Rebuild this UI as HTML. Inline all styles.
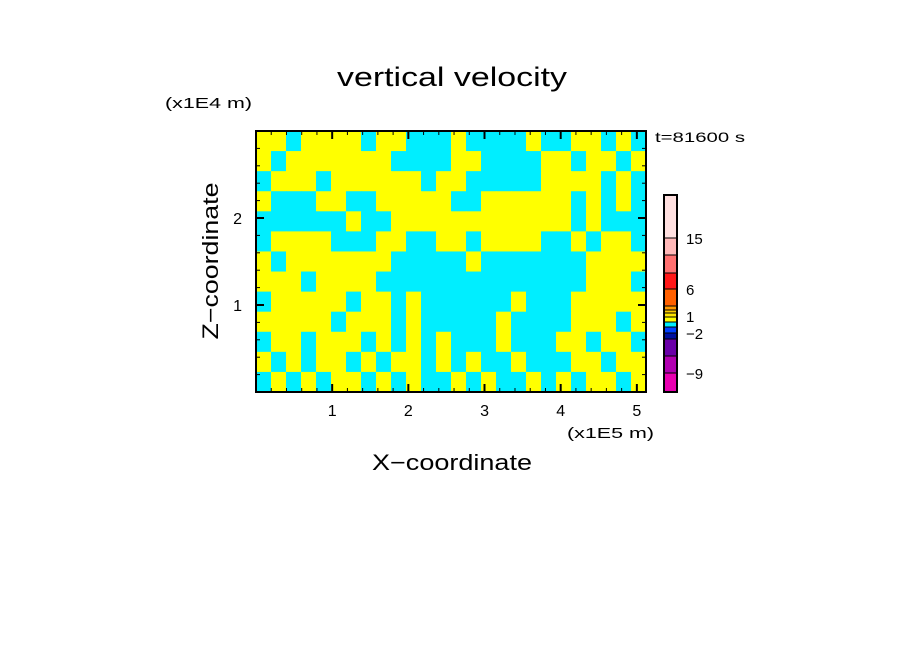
<!DOCTYPE html>
<html><head><meta charset="utf-8"><style>
html,body{margin:0;padding:0;background:#fff;}
svg{display:block;font-family:"Liberation Sans",sans-serif;}
</style></head><body>
<svg id="chart" width="904" height="654" viewBox="0 0 904 654">
<text x="452" y="86" text-anchor="middle" font-size="27" textLength="230" lengthAdjust="spacingAndGlyphs">vertical velocity</text>
<text x="165" y="108" font-size="15" textLength="87" lengthAdjust="spacingAndGlyphs">(x1E4 m)</text>
<text x="655" y="142" font-size="14" textLength="90" lengthAdjust="spacingAndGlyphs">t=81600 s</text>
<text x="567" y="438" font-size="15" textLength="87" lengthAdjust="spacingAndGlyphs">(x1E5 m)</text>
<text x="452" y="470" text-anchor="middle" font-size="22" textLength="160" lengthAdjust="spacingAndGlyphs">X−coordinate</text>
<text transform="translate(218,261) rotate(-90)" text-anchor="middle" font-size="22" textLength="157" lengthAdjust="spacingAndGlyphs">Z−coordinate</text>
<g id="field"></g>
<g id="axes"></g>
<g id="cbar"></g>
</svg>
<script>
const xTicks = [1, 2, 3, 4, 5];
const yTicks = [1, 2];
const xMax = 5.12, yMax = 3.0;
const field = [
"11011110110001000010011010",
"10111111100001100001101101",
"01110111111011000001111010",
"10001100111110011111101010",
"00000010011111111111101000",
"01111000110011011110010110",
"10111111100000100000001111",
"11101111000000000000001110",
"01111101101000000100011111",
"11111011101000001000011101",
"01101110101010001000110110",
"10101101011010100100011011",
"01010110101001010010101101"
];
const cbarColors = ["#ffe0e0","#ffb8b8","#ff7070","#ff1818","#ff6000","#ff9900","#ffcc00","#ffe600","#ffff00","#00eeff","#0040ff","#0010a0","#6a00a8","#b000b0","#e800b0"];
const cbarEdges = [0,43,60,78,94,111,115,118,122,127,132,138,144,161,178,197];
const cbarLabels = ["15","6","1","−2","−9"];
const cbarLabelPos = [43,94,121,138,178];

const NS="http://www.w3.org/2000/svg";
const L=256,R=646,T=131,B=392;
const sx=v=>L+(v/xMax)*(R-L);
const sy=v=>B-(v/yMax)*(B-T);
function mk(tag,attrs,parent){const e=document.createElementNS(NS,tag);for(const k in attrs)e.setAttribute(k,attrs[k]);parent.appendChild(e);return e;}
const fg=document.getElementById('field');
const rows=field.length, cols=field[0].length;
const cw=(R-L)/cols, ch=(B-T)/rows;
for(let r=0;r<rows;r++)for(let c=0;c<cols;c++){
  const e=mk('rect',{x:L+c*cw,y:T+r*ch,width:cw+0.5,height:ch+0.5,fill:field[r][c]==='1'?'#ffff00':'#00eeff'},fg);
  
  
}
const ax=document.getElementById('axes');
const frame=mk('rect',{x:L,y:T,width:R-L,height:B-T,fill:'none',stroke:'#000','stroke-width':2},ax);


for(const t of xTicks){
  const x=sx(t);
  mk('line',{x1:x,y1:B,x2:x,y2:B-8,stroke:'#000','stroke-width':2},ax);
  mk('line',{x1:x,y1:T,x2:x,y2:T+8,stroke:'#000','stroke-width':2},ax);
  const tx=mk('text',{x:x,y:B+24,'text-anchor':'middle','font-size':16},ax);
  tx.textContent=t;
  
  
}
for(let t=0.2;t<xMax;t+=0.2){const x=sx(t);mk('line',{x1:x,y1:B,x2:x,y2:B-4,stroke:'#000'},ax);mk('line',{x1:x,y1:T,x2:x,y2:T+4,stroke:'#000'},ax);}
for(const t of yTicks){
  const y=sy(t);
  mk('line',{x1:L,y1:y,x2:L+8,y2:y,stroke:'#000','stroke-width':2},ax);
  mk('line',{x1:R,y1:y,x2:R-8,y2:y,stroke:'#000','stroke-width':2},ax);
  const tx=mk('text',{x:L-14,y:y+6,'text-anchor':'end','font-size':16},ax);
  tx.textContent=t;
  
  
}
for(let t=0.2;t<yMax;t+=0.2){const y=sy(t);mk('line',{x1:L,y1:y,x2:L+4,y2:y,stroke:'#000'},ax);mk('line',{x1:R,y1:y,x2:R-4,y2:y,stroke:'#000'},ax);}
const cb=document.getElementById('cbar');
const cx=664,cy=195;
for(let i=0;i<cbarColors.length;i++){
  const e=mk('rect',{x:cx,y:cy+cbarEdges[i],width:13,height:cbarEdges[i+1]-cbarEdges[i],fill:cbarColors[i],stroke:'#000','stroke-width':1},cb);
  
  
}
mk('rect',{x:cx,y:cy,width:13,height:197,fill:'none',stroke:'#000','stroke-width':2},cb);
for(let i=0;i<cbarLabels.length;i++){
  const tx=mk('text',{x:686,y:cy+cbarLabelPos[i]+6,'font-size':15},cb);
  tx.textContent=cbarLabels[i];
  
  
}
</script>
</body></html>
